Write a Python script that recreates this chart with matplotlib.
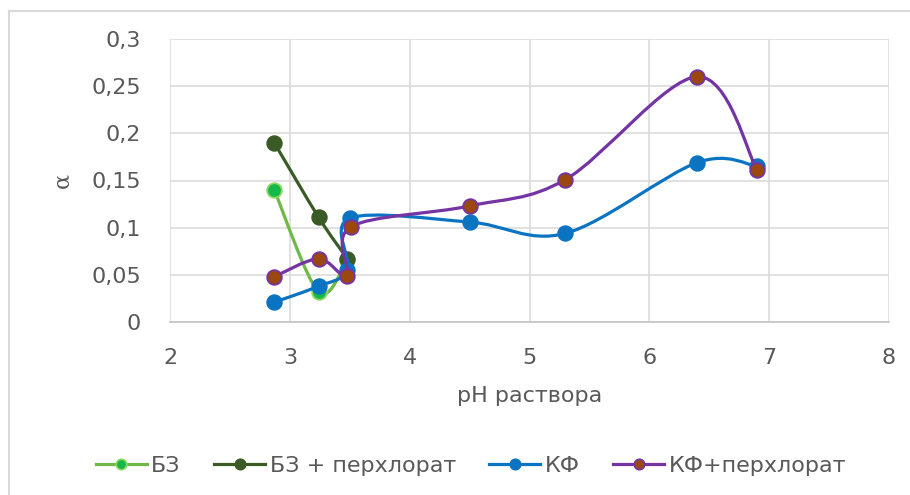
import matplotlib
matplotlib.use("Agg")
import matplotlib.pyplot as plt
import numpy as np
from matplotlib.path import Path
from matplotlib.patches import PathPatch
from matplotlib.lines import Line2D

# pH values and degree of extraction for each system
ph_bz = [2.87, 3.24, 3.48]
a_bz = [0.140, 0.032, 0.066]

ph_bz_p = [2.87, 3.24, 3.48]
a_bz_p = [0.190, 0.111, 0.067]

ph_kf = [2.87, 3.24, 3.48, 3.50, 4.5, 5.3, 6.4, 6.9]
a_kf = [0.021, 0.038, 0.055, 0.110, 0.106, 0.094, 0.169, 0.165]

ph_kf_p = [2.87, 3.24, 3.48, 3.51, 4.5, 5.3, 6.4, 6.9]
a_kf_p = [0.048, 0.067, 0.049, 0.101, 0.123, 0.151, 0.260, 0.161]

labels = ["БЗ", "БЗ + перхлорат", "КФ", "КФ+перхлорат"]
line_colors = ["#70B848", "#3A5A26", "#0A73C2", "#7434A3"]
face_colors = ["#16B84A", "#3A5A26", "#0A73C2", "#9B4710"]
edge_colors = ["#8CD860", "#3A5A26", "#0A73C2", "#7434A3"]

TXT = "#595959"
GRID = "#D9D9D9"
FS = 16


def smooth_path(x, y):
    # spreadsheet-style smoothed line: cubic Bezier through every point
    p = np.column_stack([x, y]).astype(float)
    n = len(p)
    verts = [p[0]]
    codes = [Path.MOVETO]
    for i in range(n - 1):
        p0 = p[i - 1] if i > 0 else p[i]
        p3 = p[i + 2] if i + 2 < n else p[i + 1]
        c1 = p[i] + (p[i + 1] - p0) / 6.0
        c2 = p[i + 1] - (p3 - p[i]) / 6.0
        verts += [c1, c2, p[i + 1]]
        codes += [Path.CURVE4] * 3
    return Path(verts, codes)


fig = plt.figure(figsize=(9.1, 4.95), dpi=100)
ax = fig.add_axes([170 / 910, 1 - 322 / 495, (889 - 170) / 910, (322 - 39) / 495])

series = [(ph_bz, a_bz), (ph_bz_p, a_bz_p), (ph_kf, a_kf), (ph_kf_p, a_kf_p)]
handles = []
for k, (xs, ys) in enumerate(series):
    patch = PathPatch(smooth_path(xs, ys), facecolor="none", edgecolor=line_colors[k],
                      lw=2.3, zorder=3 + k, capstyle="round", joinstyle="round")
    ax.add_patch(patch)
    ax.plot(xs, ys, ls="none", marker="o", ms=10.5, mfc=face_colors[k],
            mec=edge_colors[k], mew=1.3, zorder=3.5 + k)
    handles.append(Line2D([], [], color=line_colors[k], lw=2.3, marker="o", ms=7.5,
                          mfc=face_colors[k], mec=edge_colors[k], mew=1.2))

ax.set_xlim(2, 8)
ax.set_ylim(0, 0.3)
ax.set_xticks(range(2, 9))
ax.set_yticks([0, 0.05, 0.1, 0.15, 0.2, 0.25, 0.3])
ax.set_yticklabels(["0", "0,05", "0,1", "0,15", "0,2", "0,25", "0,3"])
ax.grid(True, color=GRID, lw=1.1)
ax.set_axisbelow(True)
for s in ["top", "right", "left"]:
    ax.spines[s].set_visible(False)
ax.spines["bottom"].set_color("#BFBFBF")
ax.spines["bottom"].set_linewidth(1.1)
ax.tick_params(length=0, labelsize=FS, colors=TXT)
ax.tick_params(axis="x", pad=19)
ax.tick_params(axis="y", pad=21)

ax.set_xlabel("pH раствора", fontsize=FS, color=TXT, labelpad=13)
fig.text(62 / 910, 1 - 180 / 495, "α", rotation=90, fontsize=FS, color=TXT,
         ha="center", va="center", family="DejaVu Serif")

# outer chart frame
fig.add_artist(Line2D([9 / 910, 1], [1 - 11 / 495, 1 - 11 / 495], color=GRID, lw=1.5))
fig.add_artist(Line2D([9 / 910, 9 / 910], [0, 1 - 11 / 495], color=GRID, lw=1.5))

fig.legend(handles, labels, loc="center", bbox_to_anchor=(471 / 910, 1 - 466 / 495), ncol=4,
           frameon=False, fontsize=FS, labelcolor=TXT, handlelength=2.3,
           handletextpad=0.2, columnspacing=1.5)

fig.savefig("out.png", dpi=100)
